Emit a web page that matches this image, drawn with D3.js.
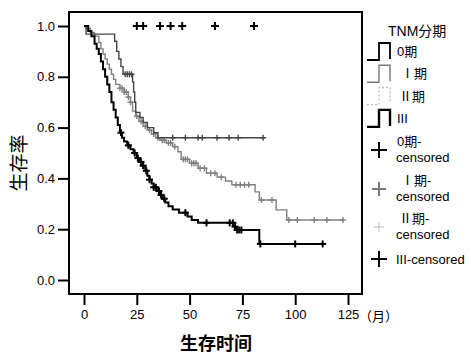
<!DOCTYPE html>
<html>
<head>
<meta charset="utf-8">
<script src="https://cdn.jsdelivr.net/npm/d3@7"></script>
<style>
  body { margin: 0; background: #fff; }
  text { font-family: "Liberation Sans", Arial, "Noto Sans CJK SC", sans-serif; }
</style>
</head>
<body>
<svg id="chart" width="471" height="355"></svg>
<script>
// Stage 0: all censored, survival stays at 1.0
const stage0Censor = [25, 28, 36, 41, 46.5, 62, 80.5];

// Stage I
const stage1Times = [0, 1, 14.5, 15.5, 16.5, 17.5, 18.5, 23, 23.5, 24, 24.5, 26.5, 28, 30, 33, 35];
const stage1Surv  = [1, 0.968, 0.94, 0.9, 0.87, 0.84, 0.81, 0.78, 0.74, 0.7, 0.66, 0.64, 0.62, 0.6, 0.58, 0.56];
const stage1End = 85.5;
const stage1Censor = [19.5, 20.5, 21.5, 22.5, 42, 48, 54, 56, 63, 68.7, 73, 84.8];

// Stage II
const stage2Times = [0, 1, 3, 5, 7, 8, 9, 10, 11, 12, 13, 14, 15, 17, 19, 21, 22, 23, 24.5, 26, 28, 30, 32, 34, 36, 39, 42, 44.5, 46, 50, 54, 58, 63, 67, 70, 81, 83, 91, 96];
const stage2Surv  = [1, 0.99, 0.975, 0.96, 0.935, 0.91, 0.89, 0.87, 0.85, 0.83, 0.81, 0.79, 0.77, 0.755, 0.74, 0.72, 0.7, 0.665, 0.645, 0.625, 0.605, 0.59, 0.575, 0.56, 0.55, 0.54, 0.525, 0.505, 0.475, 0.46, 0.44, 0.42, 0.405, 0.39, 0.375, 0.347, 0.315, 0.276, 0.236];
const stage2End = 123;
const stage2Censor = [17, 18, 19, 20, 21, 22, 25, 27, 29, 31, 33, 35, 37, 38, 40, 41, 43, 47, 48, 49, 51, 52, 53, 55, 57, 60, 62, 65, 72, 74, 76, 78, 84, 89, 97, 101, 109, 115, 122.6];

// Stage III
const stage3Times = [0, 2, 3.5, 5, 6, 7, 8, 9, 10, 11, 12, 13, 14, 15, 16, 17, 18, 19, 20.5, 22, 23.5, 25, 26, 27.5, 29, 30, 31, 32, 33, 34.5, 36, 37, 38.5, 40, 42, 45, 49, 51, 54, 71, 72, 83];
const stage3Surv  = [1, 0.98, 0.96, 0.93, 0.91, 0.89, 0.86, 0.83, 0.8, 0.77, 0.74, 0.7, 0.67, 0.64, 0.61, 0.58, 0.56, 0.545, 0.53, 0.515, 0.5, 0.48, 0.465, 0.45, 0.43, 0.41, 0.395, 0.38, 0.365, 0.35, 0.335, 0.32, 0.305, 0.29, 0.278, 0.265, 0.25, 0.236, 0.225, 0.21, 0.197, 0.142];
const stage3End = 113;
const stage3Censor = [17.5, 21, 24, 25.5, 27, 28, 29.5, 31, 33, 34, 35.5, 36.5, 38, 48, 58, 69, 70.5, 71.5, 72.5, 73.5, 74.5, 83.5, 100, 113];

const xTicks = [0, 25, 50, 75, 100, 125];
const yTicks = [0, 0.2, 0.4, 0.6, 0.8, 1.0];
const legendLines = ["0期", "Ⅰ期", "Ⅱ期", "III"];
const legendCensor = [["0期-", "censored"], ["Ⅰ期-", "censored"], ["Ⅱ期-", "censored"], ["III-censored"]];

const svg = d3.select("#chart");
const x = d3.scaleLinear().domain([0, 125]).range([84, 348]);
const y = d3.scaleLinear().domain([0, 1]).range([280, 26]);

// frame
svg.append("rect")
  .attr("x", 69).attr("y", 12)
  .attr("width", 293).attr("height", 282)
  .attr("fill", "none").attr("stroke", "#000").attr("stroke-width", 2);

// y axis
const yAxis = svg.append("g")
  .attr("transform", "translate(69,0)")
  .call(d3.axisLeft(y).tickValues(yTicks).tickFormat(d3.format(".1f")).tickSize(11).tickPadding(3));
yAxis.select(".domain").remove();
yAxis.selectAll("line").attr("stroke-width", 2);
yAxis.selectAll("text").attr("font-size", 13).attr("fill", "#000")
  .style("font-family", "'Liberation Sans', Arial, sans-serif");

// x axis
const xAxis = svg.append("g")
  .attr("transform", "translate(0,294)")
  .call(d3.axisBottom(x).tickValues(xTicks).tickSize(11).tickPadding(5));
xAxis.select(".domain").remove();
xAxis.selectAll("line").attr("stroke-width", 2);
xAxis.selectAll("text").attr("font-size", 13).attr("fill", "#000")
  .style("font-family", "'Liberation Sans', Arial, sans-serif");

svg.append("text")
  .attr("x", 359).attr("y", 321)
  .attr("font-size", 13)
  .style("font-family", "'Noto Sans CJK SC', sans-serif")
  .text("（月）");

// axis titles
svg.append("text")
  .attr("transform", "translate(26,163) rotate(-90)")
  .attr("text-anchor", "middle")
  .attr("font-size", 19)
  .style("font-family", "'Noto Sans CJK SC', sans-serif")
  .text("生存率");

svg.append("text")
  .attr("x", 216).attr("y", 350)
  .attr("text-anchor", "middle")
  .attr("font-size", 18).attr("font-weight", "bold")
  .style("font-family", "'Noto Sans CJK SC', sans-serif")
  .text("生存时间");

// survival curves
const line = d3.line()
  .x(d => x(d[0]))
  .y(d => y(d[1]))
  .curve(d3.curveStepAfter);

function survAt(times, surv, t) {
  let s = surv[0];
  for (let i = 0; i < times.length; i++) if (times[i] <= t) s = surv[i];
  return s;
}

function drawCurve(times, surv, end, censor, color, width, markSize) {
  const pts = times.map((t, i) => [t, surv[i]]);
  pts.push([end, surv[surv.length - 1]]);
  svg.append("path")
    .datum(pts)
    .attr("d", line)
    .attr("fill", "none")
    .attr("stroke", color)
    .attr("stroke-width", width);
  drawCensor(censor.map(t => [t, survAt(times, surv, t)]), color, width, markSize);
}

function drawCensor(pts, color, width, size) {
  const g = svg.append("g").attr("stroke", color).attr("stroke-width", width);
  pts.forEach(p => {
    const cx = x(p[0]), cy = y(p[1]);
    g.append("line").attr("x1", cx - size / 2).attr("x2", cx + size / 2).attr("y1", cy).attr("y2", cy);
    g.append("line").attr("x1", cx).attr("x2", cx).attr("y1", cy - size / 2).attr("y2", cy + size / 2);
  });
}

drawCurve(stage2Times, stage2Surv, stage2End, stage2Censor, "#808080", 1.4, 6);
drawCurve(stage1Times, stage1Surv, stage1End, stage1Censor, "#444", 1.4, 6);
drawCurve(stage3Times, stage3Surv, stage3End, stage3Censor, "#000", 2, 7);
drawCensor(stage0Censor.map(t => [t, 1]), "#000", 2, 8);

// legend
svg.append("text")
  .attr("x", 388).attr("y", 36)
  .attr("font-size", 14)
  .text("TNM分期");

const legendStyles = [
  { color: "#000", width: 1.8, dash: null },
  { color: "#777", width: 1.4, dash: null },
  { color: "#bbb", width: 1.2, dash: "2,2" },
  { color: "#000", width: 2.4, dash: null }
];
const labelX = [397, 401, 399, 397];

legendLines.forEach((lab, i) => {
  const yy = 51 + i * 22.3;
  const st = legendStyles[i];
  svg.append("path")
    .attr("d", `M367,${yy + 9}H379V${yy - 8}H390V${yy + 8}`)
    .attr("fill", "none")
    .attr("stroke", st.color)
    .attr("stroke-width", st.width)
    .attr("stroke-dasharray", st.dash);
  svg.append("text")
    .attr("x", labelX[i]).attr("y", yy + 5)
    .attr("font-size", 13)
    .text(lab);
});

const censorY = [150, 189, 227, 259];
const censorSize = [16, 14, 10, 16];
legendCensor.forEach((lab, i) => {
  const st = legendStyles[i];
  const cy = censorY[i];
  drawCensorLegend(379, cy, censorSize[i], st.color, i === 2 ? 1 : 2);
  if (lab.length === 2) {
    svg.append("text").attr("x", labelX[i]).attr("y", cy - 4).attr("font-size", 13).text(lab[0]);
    svg.append("text").attr("x", 396).attr("y", cy + 12).attr("font-size", 13).text(lab[1]);
  } else {
    svg.append("text").attr("x", 396).attr("y", cy + 5).attr("font-size", 13).text(lab[0]);
  }
});

function drawCensorLegend(cx, cy, size, color, width) {
  const g = svg.append("g").attr("stroke", color).attr("stroke-width", width);
  g.append("line").attr("x1", cx - size / 2).attr("x2", cx + size / 2).attr("y1", cy).attr("y2", cy);
  g.append("line").attr("x1", cx).attr("x2", cx).attr("y1", cy - size / 2).attr("y2", cy + size / 2);
}
</script>
</body>
</html>
